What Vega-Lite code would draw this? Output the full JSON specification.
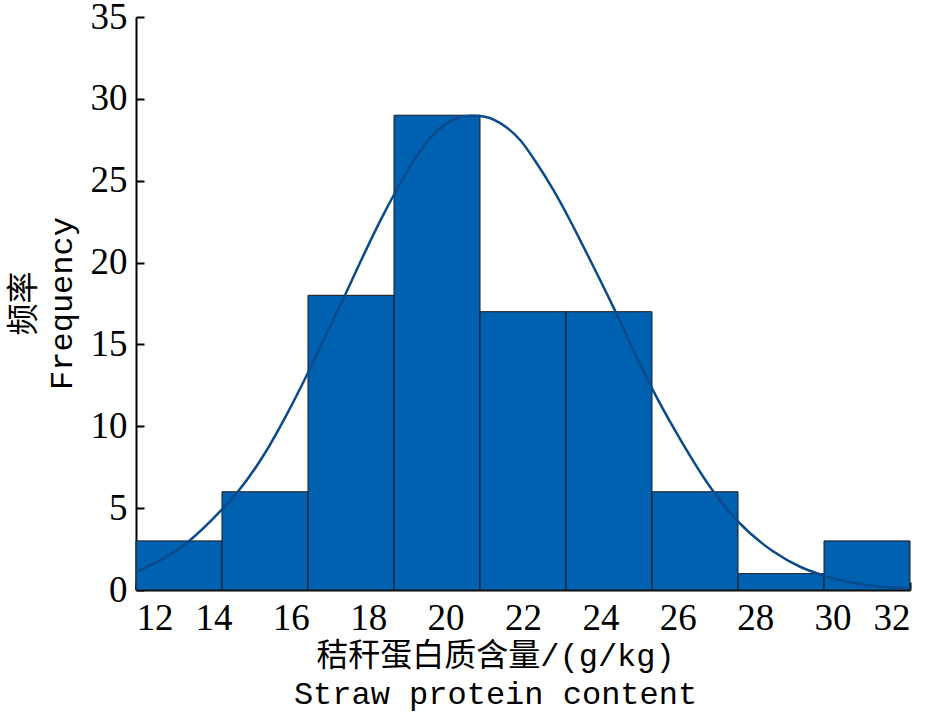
{
  "$schema": "https://vega.github.io/schema/vega-lite/v6.json",
  "width": 774,
  "height": 573,
  "autosize": {"type": "none"},
  "padding": {"left": 136, "top": 17, "right": 32, "bottom": 134},
  "background": "white",
  "config": {
    "view": {"stroke": null},
    "axis": {
      "zindex": 1,
      "domainColor": "black",
      "domainWidth": 2,
      "tickColor": "black",
      "tickWidth": 2,
      "tickSize": -8,
      "grid": false,
      "labelFont": "Liberation Serif",
      "labelFontSize": 37,
      "labelColor": "black",
      "titleFont": "Liberation Mono, Noto Sans CJK SC",
      "titleFontSize": 32,
      "titleFontWeight": "normal",
      "titleColor": "black",
      "titleLineHeight": 38
    }
  },
  "layer": [
    {
      "data": {
        "values": [
          {"bin_start": 12.0, "bin_end": 14.222, "count": 3},
          {"bin_start": 14.222, "bin_end": 16.444, "count": 6},
          {"bin_start": 16.444, "bin_end": 18.667, "count": 18},
          {"bin_start": 18.667, "bin_end": 20.889, "count": 29},
          {"bin_start": 20.889, "bin_end": 23.111, "count": 17},
          {"bin_start": 23.111, "bin_end": 25.333, "count": 17},
          {"bin_start": 25.333, "bin_end": 27.556, "count": 6},
          {"bin_start": 27.556, "bin_end": 29.778, "count": 1},
          {"bin_start": 29.778, "bin_end": 32.0, "count": 3}
        ]
      },
      "mark": {"type": "rect", "fill": "#0061B0", "stroke": "#1a1a1a", "strokeWidth": 1},
      "encoding": {
        "x": {
          "field": "bin_start",
          "type": "quantitative",
          "scale": {"domain": [12, 32], "nice": false, "zero": false},
          "axis": {
            "values": [12, 14, 16, 18, 20, 22, 24, 26, 28, 30, 32],
            "labelPadding": 18,
            "title": ["秸秆蛋白质含量/(g/kg)", "Straw protein content"],
            "titleX": 359,
            "titleY": 50,
            "titleBaseline": "top"
          }
        },
        "x2": {"field": "bin_end"},
        "y": {
          "field": "count",
          "type": "quantitative",
          "scale": {"domain": [0, 35], "nice": false},
          "axis": {
            "values": [0, 5, 10, 15, 20, 25, 30, 35],
            "labelPadding": 17,
            "title": ["频率", "Frequency"],
            "titleX": -128,
            "titleY": 286,
            "titleBaseline": "top",
            "titleAngle": -90
          }
        }
      }
    },
    {
      "data": {
        "values": [
          {"x": 12.0, "y": 1.1},
          {"x": 13.35, "y": 2.95},
          {"x": 14.21, "y": 4.89},
          {"x": 14.6, "y": 5.91},
          {"x": 15.29, "y": 8.2},
          {"x": 15.89, "y": 10.7},
          {"x": 16.45, "y": 13.3},
          {"x": 16.93, "y": 15.7},
          {"x": 17.32, "y": 17.6},
          {"x": 17.87, "y": 20.4},
          {"x": 18.3, "y": 22.5},
          {"x": 18.69, "y": 24.25},
          {"x": 19.17, "y": 26.2},
          {"x": 19.6, "y": 27.6},
          {"x": 20.03, "y": 28.5},
          {"x": 20.63, "y": 28.97},
          {"x": 20.89, "y": 28.95},
          {"x": 21.41, "y": 28.52},
          {"x": 21.92, "y": 27.5},
          {"x": 22.35, "y": 26.08},
          {"x": 22.78, "y": 24.45},
          {"x": 23.21, "y": 22.6},
          {"x": 23.56, "y": 20.98},
          {"x": 23.99, "y": 18.95},
          {"x": 24.35, "y": 17.2},
          {"x": 24.85, "y": 14.67},
          {"x": 25.33, "y": 12.33},
          {"x": 25.97, "y": 9.58},
          {"x": 26.92, "y": 6.01},
          {"x": 27.56, "y": 4.17},
          {"x": 28.47, "y": 2.35},
          {"x": 29.16, "y": 1.42},
          {"x": 29.8, "y": 0.86},
          {"x": 31.05, "y": 0.24},
          {"x": 32.0, "y": 0.1}
        ]
      },
      "mark": {"type": "line", "color": "#0B4A8B", "strokeWidth": 2.5, "interpolate": "monotone"},
      "encoding": {
        "x": {"field": "x", "type": "quantitative"},
        "y": {"field": "y", "type": "quantitative"}
      }
    }
  ]
}
